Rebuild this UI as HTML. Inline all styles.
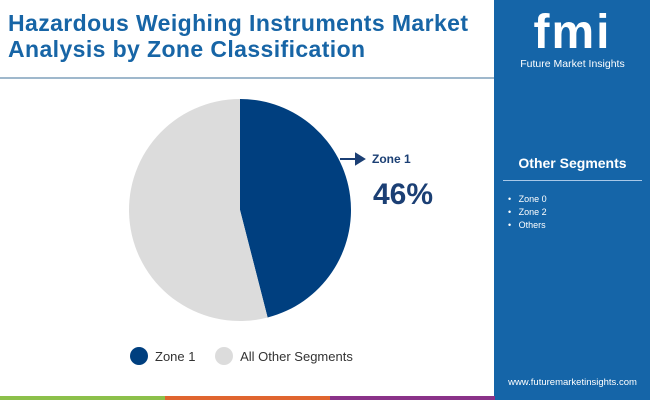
<!DOCTYPE html>
<html><head><meta charset="utf-8"><style>
body{margin:0;width:650px;height:400px;overflow:hidden;background:#fff;font-family:"Liberation Sans",sans-serif;position:relative}
.abs{position:absolute}
</style></head><body>
<div class="abs" style="left:8px;top:10px;font-size:23px;font-weight:bold;color:#1765a6;line-height:26px;letter-spacing:0.4px;white-space:nowrap">Hazardous Weighing Instruments Market<br>Analysis by Zone Classification</div>
<div class="abs" style="left:0;top:77px;width:495px;height:2px;background:#9fb8cc"></div>
<div class="abs" style="left:494px;top:0;width:156px;height:400px;background:#1565a8"></div>
<div class="abs" style="left:515px;top:8px;width:115px;text-align:center;color:#fff;font-size:48px;font-weight:bold;letter-spacing:2px;line-height:50px">fmi</div>
<div class="abs" style="left:495px;top:58px;width:155px;text-align:center;color:#fff;font-size:10.5px">Future Market Insights</div>
<div class="abs" style="left:495px;top:155px;width:155px;text-align:center;color:#fff;font-size:14px;font-weight:bold">Other Segments</div>
<div class="abs" style="left:503px;top:180px;width:139px;height:1px;background:#a8c8e8"></div>
<div class="abs" style="left:508px;top:193px;color:#fff;font-size:9px;line-height:13px">•&nbsp;&nbsp;&nbsp;Zone 0<br>•&nbsp;&nbsp;&nbsp;Zone 2<br>•&nbsp;&nbsp;&nbsp;Others</div>
<div class="abs" style="left:495px;top:377px;width:155px;text-align:center;color:#fff;font-size:9.5px">www.futuremarketinsights.com</div>
<div class="abs" style="left:0;top:396px;width:165px;height:4px;background:#8cc04a"></div>
<div class="abs" style="left:165px;top:396px;width:165px;height:4px;background:#e0652f"></div>
<div class="abs" style="left:330px;top:396px;width:165px;height:4px;background:#8a3289"></div>
<svg class="abs" style="left:0;top:0" width="494" height="396" id="chart"></svg>
<div class="abs" style="left:372px;top:152px;font-size:12px;font-weight:bold;color:#1b3f74">Zone 1</div>
<div class="abs" style="left:373px;top:178px;font-size:30px;font-weight:bold;color:#1b3f74">46%</div>
<div class="abs" style="left:130px;top:347px;font-size:13px;color:#333">
<span style="display:inline-block;vertical-align:middle;width:18px;height:18px;border-radius:50%;background:#003f7f"></span><span style="vertical-align:middle;margin-left:7px">Zone 1</span>
<span style="display:inline-block;vertical-align:middle;width:18px;height:18px;border-radius:50%;background:#dcdcdc;margin-left:16px"></span><span style="vertical-align:middle;margin-left:7px">All Other Segments</span>
</div>
<script>
const categories=["Zone 1","All Other Segments"];
const values=[46,54];
const colors=["#003f7f","#dcdcdc"];
const svg=document.getElementById('chart');
const cx=240,cy=210,r=111;
const total=values.reduce((a,b)=>a+b,0);
let a0=-Math.PI/2;
values.forEach((v,i)=>{
  const a1=a0+v/total*2*Math.PI;
  const large=(a1-a0)>Math.PI?1:0;
  const p=document.createElementNS('http://www.w3.org/2000/svg','path');
  p.setAttribute('d',`M${cx},${cy} L${cx+r*Math.cos(a0)},${cy+r*Math.sin(a0)} A${r},${r} 0 ${large} 1 ${cx+r*Math.cos(a1)},${cy+r*Math.sin(a1)} Z`);
  p.setAttribute('fill',colors[i]);
  
  
  svg.appendChild(p);
  a0=a1;
});
const ln=document.createElementNS('http://www.w3.org/2000/svg','path');
ln.setAttribute('d','M340,159 L360,159 M356,154 L364,159 L356,164 Z');
ln.setAttribute('stroke','#1b3f74');ln.setAttribute('stroke-width','2');ln.setAttribute('fill','#1b3f74');


svg.appendChild(ln);
</script>
</body></html>
